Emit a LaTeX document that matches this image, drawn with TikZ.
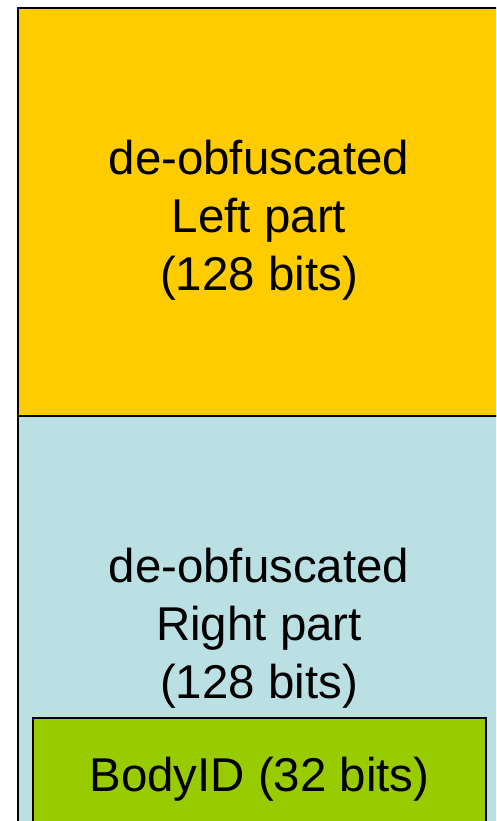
\documentclass[tikz,border=0pt]{standalone}
\usepackage{fontspec}
\setmainfont{Liberation Sans}
\usepackage{tikz}
\usetikzlibrary{positioning}

\definecolor{partyellow}{RGB}{255,204,0}
\definecolor{partblue}{RGB}{187,224,227}
\definecolor{idgreen}{RGB}{153,204,0}

\begin{document}
\begin{tikzpicture}[
    halfbox/.style={rectangle, draw, line width=1.2pt, outer sep=0pt, minimum width=9.64cm, minimum height=8.16cm},
    parttext/.style={align=center, font=\fontsize{27}{33}\selectfont},
    idbox/.style={rectangle, draw, line width=0.7pt, fill=idgreen, outer sep=0pt, minimum width=9.06cm, minimum height=2.44cm, font=\fontsize{27}{33}\selectfont}
]
\useasboundingbox (0,0) rectangle (9.92,16.42);
\clip (0,0) rectangle (9.92,16.42);

\node[halfbox, fill=partyellow, anchor=north west] (leftpart) at (0.36,16.26) {};
\node[halfbox, fill=partblue, below=0cm of leftpart] (rightpart) {};

\node[parttext] (lefttext) at ([yshift=-0.16cm]leftpart.center) {de-obfuscated\\Left part\\(128 bits)};
\node[parttext] (righttext) at ([yshift=-0.16cm]rightpart.center) {de-obfuscated\\Right part\\(128 bits)};

% BodyID sits at the bottom of the right part
\node[idbox, anchor=north west] (bodyid) at (0.66,2.06) {BodyID (32 bits)};

\end{tikzpicture}
\end{document}
